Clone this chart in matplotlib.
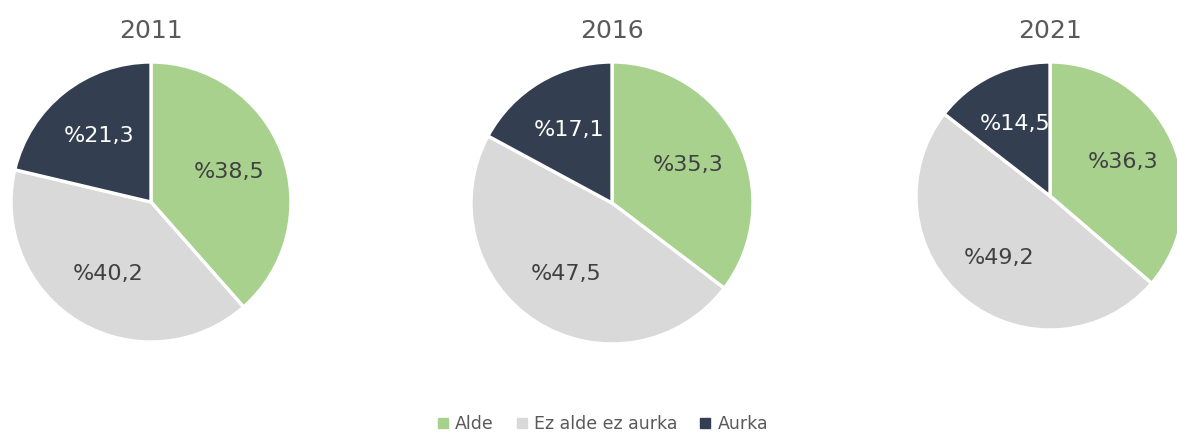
import matplotlib.pyplot as plt
from matplotlib.lines import Line2D

years = ['2011', '2016', '2021']
categories = ['Alde', 'Ez alde ez aurka', 'Aurka']
alde = [38.5, 35.3, 36.3]
ez_alde = [40.2, 47.5, 49.2]
aurka = [21.3, 17.1, 14.5]

colors = ['#a9d18e', '#d9d9d9', '#333f50']
text_colors = ['#404040', '#404040', '#ffffff']

W, H = 1177, 433
# pie centres and radii in pixels
centres = [(151, 202), (612, 203), (1050, 196)]
radii = [140, 141, 134]

plt.rcParams['font.family'] = ['DejaVu Sans']
fig = plt.figure(figsize=(W / 100, H / 100), dpi=100)

for i, year in enumerate(years):
    cx, cy = centres[i]
    r = radii[i]
    ax = fig.add_axes([(cx - r) / W, (H - cy - r) / H, 2 * r / W, 2 * r / H])
    vals = [alde[i], ez_alde[i], aurka[i]]
    wedges, texts, autotexts = ax.pie(
        vals, colors=colors, startangle=90, counterclock=False,
        radius=1, pctdistance=0.6,
        autopct=lambda p: '%' + ('%.1f' % p).replace('.', ','),
        wedgeprops=dict(edgecolor='white', linewidth=2.4),
        textprops=dict(fontsize=16))
    for t, c in zip(autotexts, text_colors):
        t.set_color(c)
    ax.set_xlim(-1, 1)
    ax.set_ylim(-1, 1)
    ax.set_aspect('equal')
    ax.axis('off')
    for w in wedges:
        w.set_clip_on(False)
    fig.text(cx / W, (H - 31) / H, year, ha='center', va='center',
             fontsize=18, color='#595959')

handles = [Line2D([], [], marker='s', linestyle='none', markersize=6.5,
                  markerfacecolor=c, markeredgecolor=c) for c in colors]
fig.legend(handles, categories, loc='center', bbox_to_anchor=(603 / W, 1 - 424 / H),
           ncol=3, frameon=False, fontsize=12.5, handlelength=0.6, handletextpad=0.4,
           columnspacing=1.3, labelcolor='#595959')

fig.savefig('out.png', dpi=100)
